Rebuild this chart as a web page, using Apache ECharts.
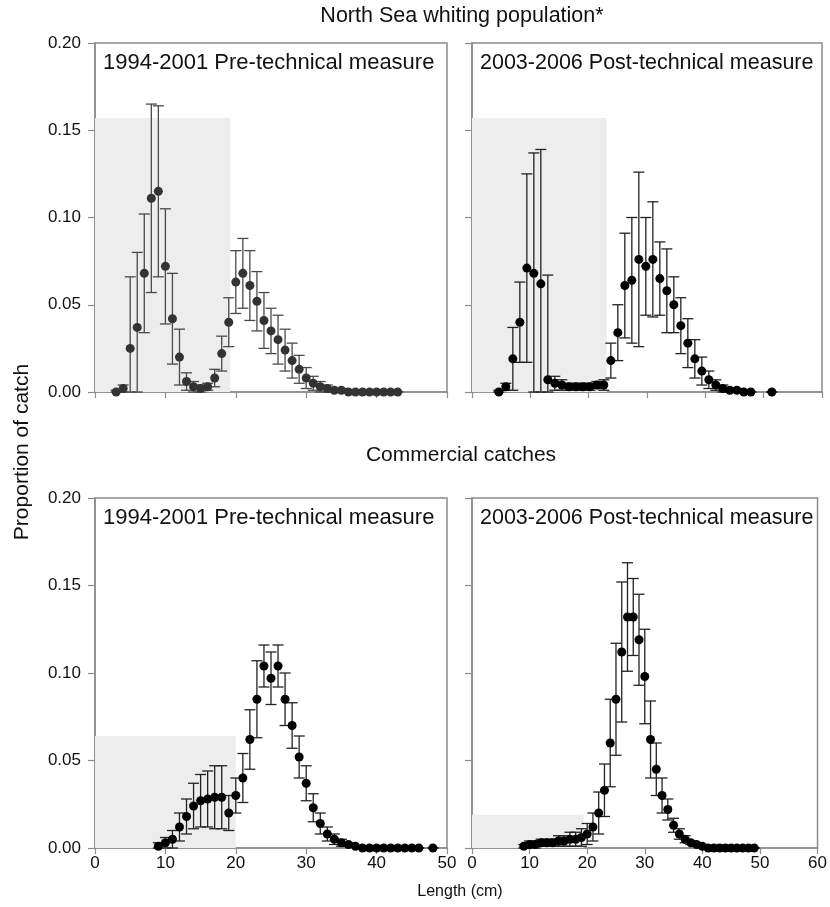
<!DOCTYPE html>
<html>
<head>
<meta charset="utf-8">
<script src="https://cdn.jsdelivr.net/npm/echarts@6/dist/echarts.min.js"></script>
<style>
html, body { margin: 0; padding: 0; background: #fff; }
#main { width: 830px; height: 907px; }
</style>
</head>
<body>
<div id="main"></div>
<script>
// North Sea whiting population, 1994-2001
var tlLen = [3, 4, 5, 6, 7, 8, 9, 10, 11, 12, 13, 14, 15, 16, 17, 18, 19, 20, 21, 22, 23, 24, 25, 26, 27, 28, 29, 30, 31, 32, 33, 34, 35, 36, 37, 38, 39, 40, 41, 42, 43];
var tlMean = [0.000, 0.002, 0.025, 0.037, 0.068, 0.111, 0.115, 0.072, 0.042, 0.020, 0.006, 0.003, 0.002, 0.003, 0.008, 0.022, 0.040, 0.063, 0.068, 0.061, 0.052, 0.041, 0.035, 0.030, 0.024, 0.018, 0.013, 0.008, 0.005, 0.003, 0.002, 0.001, 0.001, 0.000, 0.000, 0.000, 0.000, 0.000, 0.000, 0.000, 0.000];
var tlErr = [0.001, 0.002, 0.041, 0.043, 0.034, 0.054, 0.049, 0.033, 0.026, 0.016, 0.005, 0.003, 0.002, 0.002, 0.005, 0.010, 0.014, 0.018, 0.020, 0.020, 0.017, 0.016, 0.013, 0.014, 0.012, 0.010, 0.008, 0.006, 0.004, 0.003, 0.002, 0.001, 0.001, 0, 0, 0, 0, 0, 0, 0, 0];

// North Sea whiting population, 2003-2006 (x as read on the 0-60 axis)
var trLen = [4.6, 5.8, 7.0, 8.2, 9.4, 10.6, 11.8, 13.0, 14.2, 15.4, 16.6, 17.8, 19.0, 20.2, 21.4, 22.6, 23.8, 25.0, 26.2, 27.4, 28.6, 29.8, 31.0, 32.2, 33.4, 34.6, 35.8, 37.0, 38.2, 39.4, 40.6, 41.8, 43.0, 44.2, 45.4, 46.6, 47.8, 51.4];
var trMean = [0.000, 0.003, 0.019, 0.040, 0.071, 0.068, 0.062, 0.007, 0.005, 0.004, 0.003, 0.003, 0.003, 0.003, 0.004, 0.004, 0.018, 0.034, 0.061, 0.064, 0.076, 0.072, 0.076, 0.065, 0.058, 0.050, 0.038, 0.028, 0.019, 0.012, 0.007, 0.004, 0.002, 0.001, 0.001, 0.000, 0.000, 0.000];
var trErr = [0.001, 0.002, 0.018, 0.023, 0.054, 0.069, 0.077, 0.060, 0.004, 0.003, 0.002, 0.002, 0.002, 0.002, 0.002, 0.003, 0.010, 0.016, 0.030, 0.036, 0.050, 0.028, 0.033, 0.021, 0.024, 0.016, 0.016, 0.014, 0.011, 0.008, 0.005, 0.003, 0.002, 0.001, 0.001, 0, 0, 0];

// Commercial catches, 1994-2001
var blLen = [9, 10, 11, 12, 13, 14, 15, 16, 17, 18, 19, 20, 21, 22, 23, 24, 25, 26, 27, 28, 29, 30, 31, 32, 33, 34, 35, 36, 37, 38, 39, 40, 41, 42, 43, 44, 45, 46, 48];
var blMean = [0.001, 0.003, 0.005, 0.012, 0.018, 0.024, 0.027, 0.028, 0.029, 0.029, 0.020, 0.030, 0.040, 0.062, 0.085, 0.104, 0.097, 0.104, 0.085, 0.070, 0.052, 0.037, 0.023, 0.014, 0.008, 0.005, 0.003, 0.002, 0.001, 0.000, 0.000, 0.000, 0.000, 0.000, 0.000, 0.000, 0.000, 0.000, 0.000];
var blErr = [0.002, 0.003, 0.005, 0.008, 0.010, 0.013, 0.015, 0.016, 0.018, 0.018, 0.010, 0.010, 0.014, 0.017, 0.022, 0.012, 0.015, 0.012, 0.015, 0.013, 0.012, 0.010, 0.008, 0.006, 0.004, 0.003, 0.002, 0.001, 0, 0, 0, 0, 0, 0, 0, 0, 0, 0, 0];

// Commercial catches, 2003-2006
var brLen = [9, 10, 11, 12, 13, 14, 15, 16, 17, 18, 19, 20, 21, 22, 23, 24, 25, 26, 27, 28, 29, 30, 31, 32, 33, 34, 35, 36, 37, 38, 39, 40, 41, 42, 43, 44, 45, 46, 47, 48, 49];
var brMean = [0.001, 0.002, 0.002, 0.003, 0.003, 0.003, 0.004, 0.004, 0.005, 0.005, 0.006, 0.008, 0.012, 0.020, 0.033, 0.060, 0.085, 0.112, 0.132, 0.132, 0.119, 0.098, 0.062, 0.045, 0.030, 0.022, 0.013, 0.008, 0.005, 0.003, 0.002, 0.001, 0.000, 0.000, 0.000, 0.000, 0.000, 0.000, 0.000, 0.000, 0.000];
var brErr = [0.001, 0.002, 0.002, 0.002, 0.002, 0.002, 0.003, 0.003, 0.004, 0.004, 0.005, 0.006, 0.008, 0.012, 0.015, 0.025, 0.032, 0.040, 0.031, 0.022, 0.026, 0.027, 0.022, 0.015, 0.010, 0.006, 0.004, 0.003, 0.002, 0.001, 0, 0, 0, 0, 0, 0, 0, 0, 0, 0, 0];

// grey boxes: [right edge (cm), top (proportion)]
var tlShade = [19.2, 0.157];
var trShade = [23.1, 0.157];
var blShade = [20.0, 0.064];
var brShade = [19.4, 0.019];

var xMax = [50, 60, 50, 60];
var yTicks = [0, 0.05, 0.1, 0.15, 0.2];
var panelLabels = ["1994-2001 Pre-technical measure", "2003-2006 Post-technical measure",
  "1994-2001 Pre-technical measure", "2003-2006 Post-technical measure"];
var labelSize = [22, 21.5, 22, 21.5];

var FONT = "'Liberation Sans', Arial, sans-serif";
var AXIS = "#8c8c8c";

function shade(i, box) {
  return {
    type: "custom", xAxisIndex: i, yAxisIndex: i, z: 1, silent: true,
    data: [box],
    renderItem: function (params, api) {
      var p0 = api.coord([0, 0]);
      var p1 = api.coord([api.value(0), api.value(1)]);
      return {
        type: "rect",
        shape: { x: p0[0], y: p1[1], width: p1[0] - p0[0], height: p0[1] - p1[1] },
        style: { fill: "#ededed" }
      };
    }
  };
}

function errorBars(i, len, mean, err, color) {
  return {
    type: "custom", xAxisIndex: i, yAxisIndex: i, z: 3, silent: true,
    data: len.map(function (l, k) { return [l, Math.max(0, mean[k] - err[k]), mean[k] + err[k]]; }),
    encode: { x: 0, y: [1, 2] },
    renderItem: function (params, api) {
      var lo = api.coord([api.value(0), api.value(1)]);
      var hi = api.coord([api.value(0), api.value(2)]);
      var w = 5.5;
      var st = { stroke: color, lineWidth: 1.3, fill: null };
      return {
        type: "group",
        children: [
          { type: "line", shape: { x1: hi[0], y1: hi[1], x2: lo[0], y2: lo[1] }, style: st },
          { type: "line", shape: { x1: hi[0] - w, y1: hi[1], x2: hi[0] + w, y2: hi[1] }, style: st },
          { type: "line", shape: { x1: lo[0] - w, y1: lo[1], x2: lo[0] + w, y2: lo[1] }, style: st }
        ]
      };
    }
  };
}

function dots(i, len, mean, color) {
  return {
    type: "scatter", xAxisIndex: i, yAxisIndex: i, z: 4, silent: true,
    symbolSize: 9,
    itemStyle: { color: color, opacity: 1 },
    data: len.map(function (l, k) { return [l, mean[k]]; })
  };
}

var grids = [
  { left: 95, top: 43, width: 352, height: 349 },
  { left: 472, top: 43, width: 350, height: 349 },
  { left: 95, top: 498, width: 352, height: 350 },
  { left: 472, top: 498, width: 350, height: 350 }
];
grids.forEach(function (g) {
  g.show = true;
  g.borderColor = AXIS;
  g.borderWidth = 1.5;
  g.backgroundColor = "transparent";
});

var xAxes = [], yAxes = [];
for (var i = 0; i < 4; i++) {
  xAxes.push({
    type: "value", gridIndex: i, min: 0, max: xMax[i], interval: 10,
    axisLine: { show: true, lineStyle: { color: AXIS, width: 1.5 } },
    axisTick: { show: true, length: 6, lineStyle: { color: AXIS, width: 1.2 } },
    axisLabel: { show: i >= 2, color: "#111", fontSize: 17, fontFamily: FONT, margin: 7, showMinLabel: true, showMaxLabel: true },
    splitLine: { show: false }
  });
  yAxes.push({
    type: "value", gridIndex: i, min: yTicks[0], max: yTicks[yTicks.length - 1], interval: 0.05,
    axisLine: { show: true, lineStyle: { color: AXIS, width: 1.5 } },
    axisTick: { show: true, length: 7, lineStyle: { color: AXIS, width: 1.2 } },
    axisLabel: {
      show: i % 2 === 0, color: "#111", fontSize: 17, fontFamily: FONT, margin: 14,
      formatter: function (v) { return v.toFixed(2); }
    },
    splitLine: { show: false }
  });
}

function label(x, y, text, size, align, rot) {
  return {
    type: "text", x: x, y: y, rotation: rot || 0, z: 10,
    style: {
      text: text, fill: "#111", font: size + "px " + FONT,
      textAlign: align, textVerticalAlign: "middle", align: align, verticalAlign: "middle"
    }
  };
}

var graphics = [
  label(462, 16, "North Sea whiting population*", 21.5, "center"),
  label(461, 455, "Commercial catches", 21, "center"),
  label(22, 452, "Proportion of catch", 21, "center", Math.PI / 2),
  label(460, 892, "Length (cm)", 16, "center")
];
for (var j = 0; j < 4; j++) {
  graphics.push(label(grids[j].left + 8, grids[j].top + 20, panelLabels[j], labelSize[j], "left"));
}

var option = {
  animation: false,
  grid: grids,
  xAxis: xAxes,
  yAxis: yAxes,
  graphic: graphics,
  series: [
    shade(0, tlShade), shade(1, trShade), shade(2, blShade), shade(3, brShade),
    errorBars(0, tlLen, tlMean, tlErr, "#4a4a4a"),
    errorBars(1, trLen, trMean, trErr, "#222"),
    errorBars(2, blLen, blMean, blErr, "#222"),
    errorBars(3, brLen, brMean, brErr, "#222"),
    dots(0, tlLen, tlMean, "#333"),
    dots(1, trLen, trMean, "#000"),
    dots(2, blLen, blMean, "#000"),
    dots(3, brLen, brMean, "#000")
  ]
};

var myChart = echarts.init(document.getElementById("main"));
myChart.setOption(option);
</script>
</body>
</html>
